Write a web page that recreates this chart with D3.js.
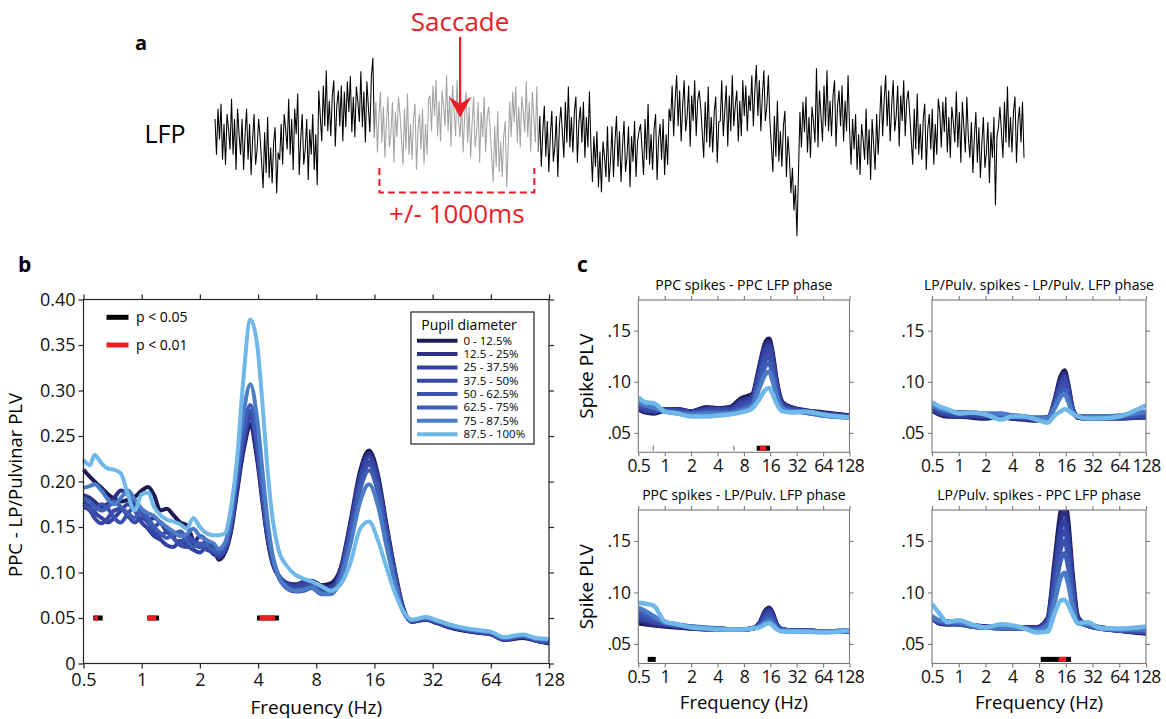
<!DOCTYPE html>
<html>
<head>
<meta charset="utf-8">
<script src="https://cdn.jsdelivr.net/npm/d3@7"></script>
<style>
  body { margin: 0; background: #fff; }
  text { font-family: "Open Sans", sans-serif; }
</style>
</head>
<body>
<svg id="fig" width="1166" height="719"></svg>
<script>
// ---------- data ----------
const pupilBins = ['0 - 12.5%', '12.5 - 25%', '25 - 37.5%', '37.5 - 50%', '50 - 62.5%', '62.5 - 75%', '75 - 87.5%', '87.5 - 100%'];
const binColors = ['#1c1b55', '#2b2f86', '#3341a1', '#3748a7', '#3a50ad', '#3e5db5', '#4a7cc8', '#6fb8e9'];

// panel a: LFP trace samples (offset, arbitrary units) and the saccade window (sample indices)
const lfpTrace = [
  15, -20, 25, -5, 30, -25, 10, -30, 20, 5, -15, 35, -20, 15, -35, 25, 0,
  -20, 15, -35, 0, 25, -25, 10, -40, -5, 20, -30, -15, 15,
  -3, -28, -53, 2, -38, 17, -43, -13, -48, -8, 7, -58, -18,
  -25, 10, -30, 20, 5, -15, 35, -20, 15, -35, 25, 0, 40,
  -40, -5, 20, -30, -15, 15, -45, 5, -20, 20, -35, 0, -50,
  43, 18, -7, 48, 8, 63, 3, 33, -2, 38, 53, -12, 28, 43, 8, 48, -7,
  42, 7, 52, 22, 57, 2, 37, -3, 47, 32, 12, 62, 7, 42, -8, 52, 27, 2, 57, 75,
  -3, 32, -18, 17, 42, -8, 27, -23, 12, 37, -13, 2, 32, -28, 22, -3, 37,
  20, -5, -30, 25, -15, 40, -20, 10, -25, 15, 30, -35, 5, 20, -15, 25, -30, 10, -20, 35,
  38, 3, 48, 18, 53, -2, 33, -7, 43, 28, 8, 58, 3, 38, -12, 48, 23, -2, 53, 13,
  -3, 32, -18, 17, 42, -8, 27, -23, 12, 37, -13, 2, 32, -28, 22, -3, 37, -18, 17, 27,
  3, -22, -47, 8, -32, 23, -37, -7, -42, -2, 13, -52, -12,
  32, -3, 42, 12, 47, -8, 27, -13, 37, 22, 2, 52, -3, 32, -18, 42, 17, -8, 47,
  -17, 18, -32, 3, 28, -22, 13, -37, -2, 23, -27, -12, 18, -42, 8,
  27, 2, -23, 32, -8, 47, -13, 17, -18, 22, 37, -28, 12, 27, -8, 32, -23, 17, -13, 42,
  -12, -47, -2, -32, 3, -52, -17, -57, -7, -22, -42, 8, -47,
  -27, 8, -42, -7, 18, -32, 3, -47, -12, 13, -37, -22, 8, -52, -2, -27, 13, -42, -7, 3,
  10, -15, -40, 15, -25, 30, -30, 0, -35, 5, 20, -45, -5, 10, -25, 15, -40, 0, -30, 25,
  13, 48, -2, 33, 58, 8, 43, -7, 28, 53, 3, 18, 48, -12, 38, 13, 53, -2, 33, 43,
  27, 2, -23, 32, -8, 47, -13, 17, -18, 22, 37, -28, 12,
  13, 53, -2, 23, 48, -12, 38, 3, 58, 8, 28, 43, -7, 33, -2, 53, 18, 48, 3, 38,
  23, 58, 8, 43, 68, 18, 53, 3, 38, 63, 13, 28, 58,
  13, -12, -37, 18, -22, 33, -27, 3, -32, 8, 23, -42, -2,
  -23, -58, -33, -75, -50, -100, -40,
  22, -13, 32, 2, 37, -18, 17, -23, 27, 12, -8, 65, -13,
  43, 18, -7, 48, 8, 63, 3, 33, -2, 38, 53, -12, 28, 43, 8, 48, -7, 33, 3, 58,
  5, -30, 15, -15, 20, -35, 0, -40, 10, -5, -25, 25, -30, 5, -45, 15, -10, -35, 20, -20,
  13, 48, -2, 33, 58, 8, 43, -7, 28, 53, 3, 18, 48, -12, 38, 13, 53, -2, 33, 43,
  20, -5, -30, 25, -15, 40, -20, 10, -25, 15, 30, -35, 5, 20, -15, 25, -30, 10, -20, 35,
  22, -13, 32, 2, 37, -18, 17, -23, 27, 12, -8, 42, -13, 22, -28, 32, 7, -18, 37, -3,
  -23, 12, -38, -3, 22, -28, 7, -43, -8, 17, -33, -18, 12, -48, 2, -23, 17, -70, -3, 7,
  27, 2, -23, 32, -8, 47, -13, 17, -18, 22, 37, -28, 12, 27, -8, 32, -23
];
const saccadeWindow = [106, 215];
const saccadeIndex = 163;

// panel b: PPC - LP/Pulvinar PLV per pupil bin
const freqB = [0.5, 0.54, 0.57, 0.62, 0.67, 0.72, 0.78, 0.85, 0.92, 1.0, 1.08, 1.16, 1.25, 1.35, 1.46, 1.58, 1.71, 1.85, 2.0, 2.17, 2.35,
  2.5, 2.7, 2.9, 3.1, 3.35, 3.65, 3.95, 4.2, 4.45, 4.75, 5.1, 5.6, 6.2,
  6.9, 7.6, 8.5, 9.5, 10.7,
  12, 13.5, 15, 16.7, 18.5, 20.5, 22.5,
  25, 29.5, 34, 40, 54, 64, 75, 94, 110, 128];
const plvB0 = [0.213, 0.205, 0.2, 0.193, 0.186, 0.181, 0.178, 0.18, 0.183, 0.19, 0.194, 0.185, 0.168, 0.17, 0.163, 0.155, 0.152, 0.135, 0.128, 0.135, 0.128,
  0.114, 0.122, 0.145, 0.185, 0.232, 0.26, 0.225, 0.18, 0.14, 0.11, 0.096, 0.088, 0.086,
  0.09, 0.091, 0.086, 0.088, 0.105,
  0.155, 0.212, 0.234, 0.207, 0.152, 0.1, 0.062,
  0.046, 0.048, 0.044, 0.039, 0.034, 0.032, 0.026, 0.028, 0.025, 0.022];
const plvB1 = [0.185, 0.182, 0.178, 0.172, 0.176, 0.182, 0.19, 0.185, 0.175, 0.165, 0.158, 0.16, 0.155, 0.145, 0.14, 0.145, 0.138, 0.132, 0.14, 0.135, 0.125,
  0.116, 0.124, 0.148, 0.188, 0.236, 0.264, 0.229, 0.183, 0.142, 0.112, 0.097, 0.089, 0.087,
  0.089, 0.09, 0.084, 0.085, 0.103,
  0.153, 0.209, 0.231, 0.204, 0.15, 0.099, 0.061,
  0.046, 0.049, 0.045, 0.04, 0.034, 0.032, 0.026, 0.029, 0.025, 0.023];
const plvB2 = [0.178, 0.172, 0.166, 0.16, 0.155, 0.16, 0.168, 0.175, 0.168, 0.155, 0.148, 0.14, 0.136, 0.13, 0.128, 0.135, 0.13, 0.125, 0.122, 0.128, 0.12,
  0.118, 0.125, 0.15, 0.192, 0.241, 0.27, 0.234, 0.187, 0.145, 0.113, 0.097, 0.088, 0.085,
  0.088, 0.089, 0.082, 0.083, 0.101,
  0.15, 0.205, 0.227, 0.2, 0.147, 0.097, 0.06,
  0.046, 0.049, 0.045, 0.04, 0.035, 0.033, 0.027, 0.029, 0.025, 0.023];
const plvB3 = [0.172, 0.168, 0.16, 0.154, 0.16, 0.168, 0.17, 0.162, 0.155, 0.16, 0.155, 0.145, 0.14, 0.145, 0.138, 0.13, 0.128, 0.135, 0.13, 0.125, 0.122,
  0.12, 0.127, 0.152, 0.195, 0.245, 0.274, 0.238, 0.19, 0.147, 0.114, 0.097, 0.087, 0.083,
  0.086, 0.087, 0.08, 0.081, 0.1,
  0.147, 0.2, 0.222, 0.196, 0.144, 0.095, 0.06,
  0.047, 0.049, 0.045, 0.04, 0.035, 0.033, 0.027, 0.03, 0.026, 0.024];
const plvB4 = [0.175, 0.17, 0.168, 0.175, 0.17, 0.16, 0.155, 0.165, 0.172, 0.165, 0.155, 0.15, 0.155, 0.148, 0.138, 0.132, 0.14, 0.135, 0.128, 0.13, 0.124,
  0.121, 0.128, 0.154, 0.198, 0.249, 0.278, 0.242, 0.193, 0.149, 0.115, 0.096, 0.085, 0.081,
  0.083, 0.085, 0.078, 0.079, 0.098,
  0.144, 0.196, 0.218, 0.192, 0.141, 0.094, 0.059,
  0.047, 0.05, 0.046, 0.041, 0.035, 0.033, 0.027, 0.03, 0.026, 0.024];
const plvB5 = [0.182, 0.178, 0.173, 0.168, 0.172, 0.178, 0.172, 0.165, 0.16, 0.168, 0.16, 0.15, 0.143, 0.138, 0.142, 0.145, 0.135, 0.128, 0.132, 0.13, 0.125,
  0.123, 0.13, 0.157, 0.203, 0.255, 0.284, 0.248, 0.198, 0.152, 0.116, 0.095, 0.083, 0.079,
  0.08, 0.083, 0.076, 0.077, 0.096,
  0.14, 0.191, 0.212, 0.187, 0.137, 0.092, 0.058,
  0.047, 0.05, 0.046, 0.041, 0.036, 0.034, 0.028, 0.031, 0.027, 0.025];
const plvB6 = [0.193, 0.195, 0.197, 0.19, 0.18, 0.175, 0.182, 0.19, 0.18, 0.17, 0.165, 0.162, 0.155, 0.15, 0.145, 0.14, 0.142, 0.148, 0.14, 0.135, 0.132,
  0.126, 0.133, 0.163, 0.215, 0.272, 0.307, 0.27, 0.215, 0.162, 0.12, 0.097, 0.084, 0.08,
  0.081, 0.084, 0.077, 0.076, 0.092,
  0.13, 0.178, 0.197, 0.173, 0.128, 0.087, 0.057,
  0.048, 0.05, 0.047, 0.042, 0.036, 0.034, 0.028, 0.031, 0.027, 0.026];
const plvB7 = [0.224, 0.218, 0.229, 0.22, 0.214, 0.213, 0.209, 0.185, 0.168, 0.186, 0.188, 0.172, 0.163, 0.158, 0.156, 0.153, 0.148, 0.16, 0.15, 0.143, 0.141,
  0.141, 0.143, 0.172, 0.22, 0.31, 0.378, 0.352, 0.29, 0.22, 0.16, 0.125, 0.108, 0.098,
  0.093, 0.09, 0.085, 0.08, 0.087,
  0.11, 0.148, 0.156, 0.135, 0.105, 0.077, 0.058,
  0.048, 0.051, 0.047, 0.042, 0.037, 0.035, 0.029, 0.032, 0.028, 0.027];
const sigB05 = [[0.562, 0.628], [1.07, 1.23], [3.95, 5.13]];
const sigB01 = [[0.568, 0.594], [1.07, 1.19], [4.07, 4.89]];
const yTicksB = [0, 0.05, 0.1, 0.15, 0.2, 0.25, 0.3, 0.35, 0.4];
const yTickLabelsB = ['0', '0.05', '0.10', '0.15', '0.20', '0.25', '0.30', '0.35', '0.40'];
const freqTicks = [0.5, 1, 2, 4, 8, 16, 32, 64, 128];
const freqTickLabels = ['0.5', '1', '2', '4', '8', '16', '32', '64', '128'];

// panel c: spike PLV per pupil bin, four spike/LFP pairings
const freqC = [0.5, 0.6, 0.75, 1, 1.4, 2, 3, 4, 5.5, 7.5, 10, 12, 14, 15.5, 17, 19, 22, 28, 40, 64, 128];
const titlesC = ['PPC spikes - PPC LFP phase', 'LP/Pulv. spikes - LP/Pulv. LFP phase', 'PPC spikes - LP/Pulv. LFP phase', 'LP/Pulv. spikes - PPC LFP phase'];
const plvPPCPPC = [
  [0.073, 0.07, 0.069, 0.072, 0.073, 0.071, 0.075, 0.074, 0.075, 0.084, 0.088, 0.115, 0.138, 0.142, 0.128, 0.1, 0.08, 0.075, 0.072, 0.07, 0.067],
  [0.074, 0.071, 0.07, 0.073, 0.073, 0.071, 0.074, 0.074, 0.074, 0.082, 0.086, 0.113, 0.135, 0.139, 0.125, 0.098, 0.079, 0.074, 0.072, 0.069, 0.067],
  [0.075, 0.072, 0.071, 0.073, 0.072, 0.07, 0.073, 0.073, 0.073, 0.08, 0.085, 0.11, 0.131, 0.135, 0.122, 0.096, 0.078, 0.074, 0.071, 0.069, 0.066],
  [0.076, 0.073, 0.072, 0.072, 0.072, 0.07, 0.072, 0.072, 0.072, 0.078, 0.083, 0.107, 0.126, 0.13, 0.118, 0.094, 0.077, 0.073, 0.071, 0.068, 0.066],
  [0.077, 0.075, 0.073, 0.072, 0.071, 0.069, 0.071, 0.071, 0.071, 0.076, 0.081, 0.103, 0.121, 0.124, 0.113, 0.091, 0.076, 0.073, 0.07, 0.068, 0.066],
  [0.078, 0.076, 0.074, 0.071, 0.07, 0.069, 0.07, 0.07, 0.07, 0.074, 0.079, 0.099, 0.115, 0.118, 0.108, 0.088, 0.075, 0.072, 0.07, 0.067, 0.065],
  [0.08, 0.077, 0.075, 0.071, 0.069, 0.068, 0.069, 0.069, 0.069, 0.072, 0.077, 0.094, 0.107, 0.11, 0.101, 0.085, 0.074, 0.071, 0.07, 0.067, 0.065],
  [0.085, 0.08, 0.079, 0.071, 0.069, 0.066, 0.066, 0.067, 0.068, 0.07, 0.074, 0.083, 0.092, 0.094, 0.088, 0.078, 0.071, 0.07, 0.071, 0.068, 0.065]
];
const plvLPLP = [
  [0.072, 0.068, 0.066, 0.066, 0.065, 0.064, 0.066, 0.064, 0.063, 0.062, 0.063, 0.082, 0.105, 0.111, 0.098, 0.075, 0.065, 0.064, 0.064, 0.065, 0.065],
  [0.073, 0.069, 0.067, 0.066, 0.066, 0.065, 0.066, 0.064, 0.064, 0.063, 0.064, 0.081, 0.102, 0.108, 0.096, 0.074, 0.065, 0.064, 0.064, 0.064, 0.066],
  [0.074, 0.07, 0.068, 0.067, 0.067, 0.066, 0.067, 0.065, 0.064, 0.063, 0.064, 0.079, 0.099, 0.105, 0.094, 0.074, 0.066, 0.065, 0.064, 0.065, 0.066],
  [0.075, 0.071, 0.069, 0.068, 0.068, 0.067, 0.067, 0.066, 0.065, 0.064, 0.065, 0.078, 0.096, 0.101, 0.091, 0.073, 0.066, 0.065, 0.065, 0.065, 0.067],
  [0.076, 0.072, 0.07, 0.069, 0.069, 0.068, 0.068, 0.066, 0.065, 0.064, 0.065, 0.077, 0.093, 0.097, 0.088, 0.072, 0.066, 0.066, 0.065, 0.066, 0.068],
  [0.077, 0.073, 0.071, 0.07, 0.07, 0.068, 0.068, 0.067, 0.066, 0.065, 0.065, 0.076, 0.089, 0.093, 0.085, 0.071, 0.066, 0.066, 0.066, 0.066, 0.069],
  [0.078, 0.074, 0.072, 0.07, 0.07, 0.069, 0.069, 0.067, 0.066, 0.064, 0.064, 0.074, 0.085, 0.088, 0.081, 0.07, 0.066, 0.066, 0.066, 0.067, 0.071],
  [0.08, 0.076, 0.073, 0.069, 0.07, 0.068, 0.063, 0.066, 0.066, 0.063, 0.06, 0.067, 0.071, 0.073, 0.072, 0.069, 0.066, 0.064, 0.064, 0.066, 0.077]
];
const plvPPCLP = [
  [0.07, 0.069, 0.068, 0.067, 0.066, 0.065, 0.064, 0.064, 0.064, 0.064, 0.065, 0.07, 0.082, 0.085, 0.08, 0.069, 0.064, 0.063, 0.063, 0.062, 0.062],
  [0.073, 0.071, 0.069, 0.068, 0.067, 0.065, 0.065, 0.064, 0.064, 0.064, 0.065, 0.07, 0.081, 0.084, 0.079, 0.068, 0.064, 0.063, 0.063, 0.062, 0.062],
  [0.076, 0.073, 0.071, 0.069, 0.067, 0.066, 0.065, 0.065, 0.064, 0.064, 0.065, 0.069, 0.079, 0.082, 0.077, 0.068, 0.064, 0.063, 0.063, 0.062, 0.062],
  [0.078, 0.075, 0.072, 0.069, 0.068, 0.066, 0.065, 0.065, 0.064, 0.064, 0.065, 0.069, 0.077, 0.08, 0.076, 0.067, 0.064, 0.063, 0.063, 0.062, 0.063],
  [0.08, 0.077, 0.074, 0.07, 0.068, 0.066, 0.065, 0.065, 0.064, 0.064, 0.065, 0.068, 0.075, 0.078, 0.074, 0.067, 0.064, 0.063, 0.062, 0.062, 0.063],
  [0.082, 0.079, 0.075, 0.071, 0.068, 0.067, 0.065, 0.065, 0.064, 0.064, 0.065, 0.068, 0.073, 0.076, 0.072, 0.066, 0.063, 0.063, 0.062, 0.062, 0.063],
  [0.085, 0.082, 0.077, 0.071, 0.069, 0.067, 0.066, 0.065, 0.064, 0.064, 0.065, 0.067, 0.071, 0.073, 0.07, 0.065, 0.063, 0.062, 0.062, 0.062, 0.063],
  [0.09, 0.089, 0.087, 0.072, 0.069, 0.066, 0.065, 0.064, 0.064, 0.064, 0.065, 0.066, 0.069, 0.07, 0.068, 0.064, 0.062, 0.062, 0.062, 0.061, 0.063]
];
const plvLPPPC = [
  [0.077, 0.07, 0.069, 0.07, 0.068, 0.067, 0.066, 0.066, 0.066, 0.066, 0.075, 0.13, 0.178, 0.19, 0.17, 0.12, 0.076, 0.068, 0.066, 0.063, 0.06],
  [0.076, 0.07, 0.069, 0.069, 0.068, 0.067, 0.066, 0.066, 0.066, 0.066, 0.074, 0.124, 0.169, 0.18, 0.161, 0.114, 0.075, 0.068, 0.065, 0.063, 0.061],
  [0.075, 0.071, 0.07, 0.069, 0.068, 0.066, 0.066, 0.065, 0.065, 0.065, 0.073, 0.118, 0.16, 0.17, 0.152, 0.109, 0.074, 0.068, 0.065, 0.063, 0.061],
  [0.074, 0.071, 0.07, 0.069, 0.067, 0.066, 0.065, 0.065, 0.065, 0.065, 0.072, 0.112, 0.151, 0.16, 0.144, 0.104, 0.073, 0.068, 0.065, 0.063, 0.062],
  [0.074, 0.071, 0.07, 0.069, 0.067, 0.066, 0.065, 0.065, 0.065, 0.064, 0.071, 0.106, 0.142, 0.15, 0.135, 0.099, 0.072, 0.068, 0.065, 0.063, 0.062],
  [0.075, 0.072, 0.071, 0.07, 0.067, 0.066, 0.066, 0.065, 0.065, 0.064, 0.07, 0.1, 0.131, 0.138, 0.125, 0.094, 0.071, 0.068, 0.066, 0.064, 0.063],
  [0.077, 0.073, 0.072, 0.071, 0.068, 0.066, 0.066, 0.066, 0.065, 0.063, 0.068, 0.091, 0.114, 0.119, 0.109, 0.087, 0.07, 0.069, 0.066, 0.064, 0.064],
  [0.089, 0.08, 0.071, 0.073, 0.069, 0.066, 0.069, 0.068, 0.065, 0.061, 0.062, 0.08, 0.092, 0.093, 0.088, 0.079, 0.07, 0.071, 0.065, 0.065, 0.067]
];
const sigPPCPPC05 = [[0.732, 0.742], [6.12, 6.2], [11.2, 15.9]];
const sigPPCPPC01 = [[12.2, 14.3]];
const sigPPCLP05 = [[0.64, 0.79]];
const sigLPPPC05 = [[8.36, 18.3]];
const sigLPPPC01 = [[13.3, 16.1]];
const yTicksC = [0.05, 0.1, 0.15];
const yTickLabelsC = ['.05', '.10', '.15'];

// ---------- drawing ----------
const svg = d3.select('#fig');
const RED = '#ec1c24';

// panel a
const ga = svg.append('g');
const lfpX = d3.scaleLinear().domain([0, lfpTrace.length - 1]).range([215, 1024]);
const lfpY = d3.scaleLinear().domain([-100, 75]).range([236, 58]);
const lfpPts = lfpTrace.map((v, i) => ({ i, v }));
const lfpLine = d3.line().x(d => lfpX(d.i)).y(d => lfpY(d.v));
const [w0, w1] = saccadeWindow;
[lfpPts.slice(0, w0 + 1), lfpPts.slice(w1)].forEach(seg => {
  ga.append('path').datum(seg).attr('d', lfpLine)
    .attr('fill', 'none').attr('stroke', '#000').attr('stroke-width', 1.05);
});
ga.append('path').datum(lfpPts.slice(w0, w1 + 1)).attr('d', lfpLine)
  .attr('fill', 'none').attr('stroke', '#a3a3a3').attr('stroke-width', 1.05);

ga.append('text').attr('x', 135).attr('y', 50).attr('font-size', 20).attr('font-weight', 700).text('a');
ga.append('text').attr('x', 165).attr('y', 143).attr('text-anchor', 'middle').attr('font-size', 25).text('LFP');

const sx = lfpX(saccadeIndex);
ga.append('text').attr('x', sx).attr('y', 31).attr('text-anchor', 'middle')
  .attr('font-size', 26).attr('fill', RED).text('Saccade');
ga.append('line').attr('x1', sx).attr('x2', sx).attr('y1', 37).attr('y2', 104)
  .attr('stroke', RED).attr('stroke-width', 2.2);
ga.append('path')
  .attr('d', `M${sx - 11.5},96.5 L${sx},104 L${sx + 11.5},96.5 L${sx},117.5 Z`)
  .attr('fill', RED);
const bx0 = lfpX(w0) + 5, bx1 = lfpX(w1) - 4;
ga.append('path').attr('d', `M${bx0},168 V192.5 H${bx1} V168`)
  .attr('fill', 'none').attr('stroke', RED).attr('stroke-width', 2).attr('stroke-dasharray', '7,4');
ga.append('text').attr('x', (bx0 + bx1) / 2).attr('y', 223).attr('text-anchor', 'middle')
  .attr('font-size', 26).attr('fill', RED).text('+/- 1000ms');

// shared frame helper: box, outward ticks on all four sides
function frame(g, x, y, o) {
  const [xa, xb] = x.range();
  const [ya, yb] = y.range();
  const fmtX = d => o.xLabels[o.xTicks.indexOf(d)];
  const fmtY = d => o.yLabels[o.yTicks.indexOf(d)];
  g.append('g').attr('transform', `translate(0,${ya})`)
    .call(d3.axisBottom(x).tickValues(o.xTicks).tickFormat(fmtX).tickSize(o.tick).tickPadding(o.xPad).tickSizeOuter(0));
  g.append('g').attr('transform', `translate(0,${yb})`)
    .call(d3.axisTop(x).tickValues(o.xTicks).tickFormat('').tickSize(o.tick).tickSizeOuter(0));
  g.append('g').attr('transform', `translate(${xa},0)`)
    .call(d3.axisLeft(y).tickValues(o.yTicks).tickFormat(fmtY).tickSize(o.tick).tickPadding(o.yPad).tickSizeOuter(0));
  g.append('g').attr('transform', `translate(${xb},0)`)
    .call(d3.axisRight(y).tickValues(o.yTicks).tickFormat('').tickSize(o.tick).tickSizeOuter(0));
  g.selectAll('.domain').remove();
  g.selectAll('.tick line').attr('stroke', o.color).attr('stroke-width', o.sw);
  g.selectAll('.tick text').attr('font-family', '"Open Sans", sans-serif')
    .attr('font-size', o.fontSize).attr('fill', '#111').attr('letter-spacing', o.spacing || 0);
  g.selectAll('g').attr('font-family', null).attr('font-size', null);
  g.append('rect').attr('x', xa).attr('y', yb).attr('width', xb - xa).attr('height', ya - yb)
    .attr('fill', 'none').attr('stroke', o.color).attr('stroke-width', o.sw);
}

function drawSig(g, x, y, level, ranges, color, h) {
  g.selectAll(null).data(ranges).join('rect')
    .attr('x', d => x(d[0])).attr('width', d => Math.max(0.6, x(d[1]) - x(d[0])))
    .attr('y', y(level) - h / 2).attr('height', h).attr('fill', color);
}

// panel b
const gb = svg.append('g');
const xB = d3.scaleLog().base(2).domain([0.5, 128]).range([83.5, 549]);
const yB = d3.scaleLinear().domain([0, 0.4]).range([663.5, 299.5]);
const seriesB = [plvB0, plvB1, plvB2, plvB3, plvB4, plvB5, plvB6, plvB7];
const lineB = d3.line().x((d, i) => xB(freqB[i])).y(d => yB(d)).curve(d3.curveMonotoneX);
gb.selectAll('path.s').data(seriesB).join('path').attr('class', 's')
  .attr('d', lineB).attr('fill', 'none')
  .attr('stroke', (d, i) => binColors[i]).attr('stroke-width', 4).attr('stroke-linejoin', 'round');
drawSig(gb, xB, yB, 0.05, sigB05, '#000', 5);
drawSig(gb, xB, yB, 0.05, sigB01, RED, 5);
frame(gb, xB, yB, {
  xTicks: freqTicks, xLabels: freqTickLabels, yTicks: yTicksB, yLabels: yTickLabelsB,
  tick: 5, xPad: 5, yPad: 3, color: '#222', sw: 1.2, fontSize: 18
});
gb.append('text').attr('x', 18).attr('y', 272).attr('font-size', 21).attr('font-weight', 700).text('b');
gb.append('text').attr('transform', 'translate(22,485) rotate(-90)').attr('text-anchor', 'middle')
  .attr('font-size', 18.5).text('PPC - LP/Pulvinar PLV');
gb.append('text').attr('x', (83.5 + 549) / 2).attr('y', 714).attr('text-anchor', 'middle')
  .attr('font-size', 19).text('Frequency (Hz)');

// significance legend
const sigLegend = [['#000', 'p < 0.05'], [RED, 'p < 0.01']];
sigLegend.forEach(([c, t], i) => {
  const yy = 317.3 + i * 27.7;
  gb.append('line').attr('x1', 106.5).attr('x2', 128.5).attr('y1', yy).attr('y2', yy)
    .attr('stroke', c).attr('stroke-width', 5);
  gb.append('text').attr('x', 136).attr('y', yy).attr('dy', '0.35em').attr('font-size', 14).text(t);
});

// pupil legend
const gl = gb.append('g');
gl.append('rect').attr('x', 411).attr('y', 312).attr('width', 123).attr('height', 132)
  .attr('fill', '#fff').attr('stroke', '#222').attr('stroke-width', 1.2);
gl.append('text').attr('x', 469).attr('y', 330).attr('text-anchor', 'middle').attr('font-size', 14).text('Pupil diameter');
pupilBins.forEach((lab, i) => {
  const yy = 340.7 + i * 13.35;
  gl.append('line').attr('x1', 417).attr('x2', 457.5).attr('y1', yy).attr('y2', yy)
    .attr('stroke', binColors[i]).attr('stroke-width', 4);
  gl.append('text').attr('x', 463.5).attr('y', yy).attr('dy', '0.35em').attr('font-size', 11.5).text(lab);
});

// panel c
const gc = svg.append('g');
gc.append('text').attr('x', 577).attr('y', 272).attr('font-size', 21).attr('font-weight', 700).text('c');
const cPanels = [
  { title: titlesC[0], data: plvPPCPPC, sig05: sigPPCPPC05, sig01: sigPPCPPC01, x0: 638.3, x1: 849.5, y0: 452.3, y1: 300, ylab: true, xlab: false },
  { title: titlesC[1], data: plvLPLP, sig05: [], sig01: [], x0: 932, x1: 1146, y0: 452.3, y1: 300, ylab: false, xlab: false },
  { title: titlesC[2], data: plvPPCLP, sig05: sigPPCLP05, sig01: [], x0: 638.3, x1: 849.5, y0: 663.5, y1: 510, ylab: true, xlab: true },
  { title: titlesC[3], data: plvLPPPC, sig05: sigLPPPC05, sig01: sigLPPPC01, x0: 932, x1: 1146, y0: 663.5, y1: 510, ylab: false, xlab: true }
];
cPanels.forEach((p, k) => {
  const g = gc.append('g');
  const x = d3.scaleLog().base(2).domain([0.5, 128]).range([p.x0, p.x1]);
  const y = d3.scaleLinear().domain([0.031, 0.18]).range([p.y0, p.y1]);
  const clipId = `clipc${k}`;
  g.append('clipPath').attr('id', clipId).append('rect')
    .attr('x', p.x0).attr('y', p.y1).attr('width', p.x1 - p.x0).attr('height', p.y0 - p.y1);
  const line = d3.line().x((d, i) => x(freqC[i])).y(d => y(d)).curve(d3.curveMonotoneX);
  g.append('g').attr('clip-path', `url(#${clipId})`)
    .selectAll('path').data(p.data).join('path')
    .attr('d', line).attr('fill', 'none')
    .attr('stroke', (d, i) => binColors[i]).attr('stroke-width', 4.5).attr('stroke-linejoin', 'round');
  drawSig(g, x, y, 0.035, p.sig05, '#000', 5);
  drawSig(g, x, y, 0.035, p.sig01, RED, 5);
  frame(g, x, y, {
    xTicks: freqTicks, xLabels: freqTickLabels, yTicks: yTicksC, yLabels: yTickLabelsC,
    tick: 4, xPad: 3, yPad: 4, color: '#7a7a7a', sw: 1.1, fontSize: 17.5, spacing: -0.6
  });
  g.append('text').attr('x', (p.x0 + p.x1) / 2).attr('y', p.y1 - 10).attr('text-anchor', 'middle')
    .attr('font-size', 14).text(p.title);
  if (p.ylab) {
    g.append('text').attr('transform', `translate(593,${(p.y0 + p.y1) / 2}) rotate(-90)`)
      .attr('text-anchor', 'middle').attr('font-size', 19).text('Spike PLV');
  }
  if (p.xlab) {
    g.append('text').attr('x', (p.x0 + p.x1) / 2).attr('y', 709).attr('text-anchor', 'middle')
      .attr('font-size', 18.5).text('Frequency (Hz)');
  }
});
</script>
</body>
</html>
